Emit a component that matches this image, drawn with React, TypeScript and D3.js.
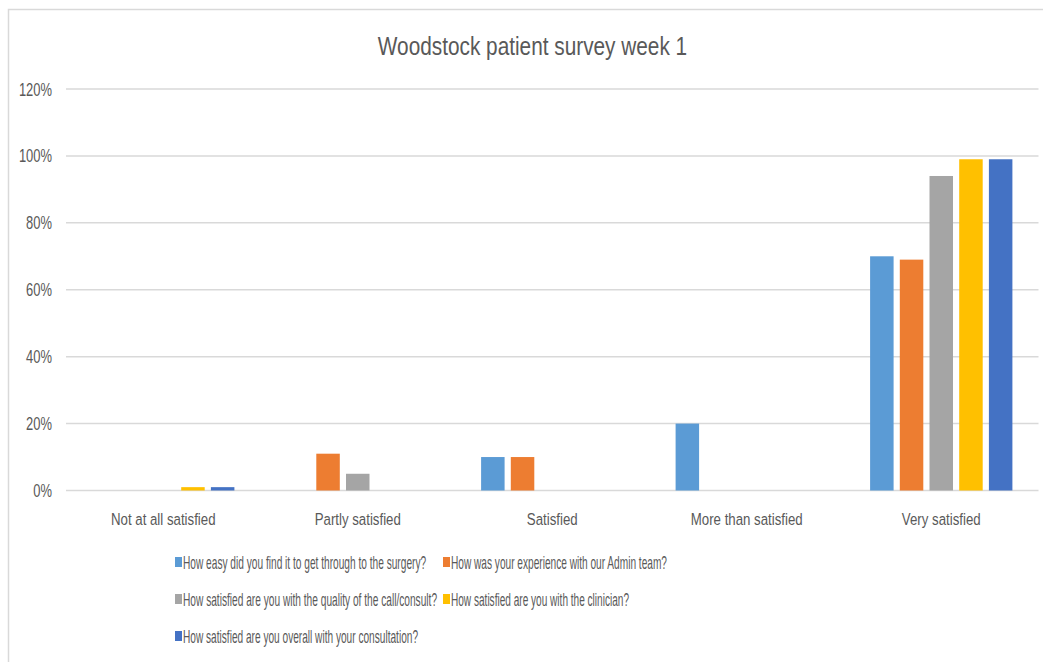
import React, { useLayoutEffect, useRef, useState } from "react";
import * as d3 from "d3";

const categories = [
  "Not at all satisfied",
  "Partly satisfied",
  "Satisfied",
  "More than satisfied",
  "Very satisfied",
];

const seriesNames = [
  "How easy did you find it to get through to the surgery?",
  "How was your experience with our Admin team?",
  "How satisfied are you with the quality of the call/consult?",
  "How satisfied are you with the clinician?",
  "How satisfied are you overall with your consultation?",
];

const seriesColors = ["#5B9BD5", "#ED7D31", "#A5A5A5", "#FFC000", "#4472C4"];

// Percent of responses per category, one array per question
const easyThrough = [0, 0, 10, 20, 70];
const adminTeam = [0, 11, 10, 0, 69];
const callQuality = [0, 5, 0, 0, 94];
const clinician = [1, 0, 0, 0, 99];
const overall = [1, 0, 0, 0, 99];

const seriesValues = [easyThrough, adminTeam, callQuality, clinician, overall];

const yTicks = [0, 20, 40, 60, 80, 100, 120];

const W = 1043;
const H = 662;
const margin = { left: 66, right: 4.5, top: 89, bottom: 172 };
const FONT = "'Liberation Sans', Arial, sans-serif";
const TEXT = "#595959";

// Condensed legend text widths
const legendWidths = [243, 216, 254, 178, 235];

export default function App() {
  const legendRefs = useRef<(SVGTextElement | null)[]>([]);
  const [legendScale, setLegendScale] = useState<number[]>(legendWidths.map(() => 0.8));

  useLayoutEffect(() => {
    const s = legendRefs.current.map((el, i) => {
      if (!el) return 0.8;
      const w = el.getComputedTextLength();
      return w > 0 ? legendWidths[i] / w : 0.8;
    });
    setLegendScale(s);
  }, []);

  const x0 = d3
    .scaleBand<string>()
    .domain(categories)
    .range([margin.left, W - margin.right])
    .padding(0);
  const groupW = 142.3;
  const x1 = d3
    .scaleBand<number>()
    .domain(d3.range(seriesNames.length))
    .range([0, groupW])
    .paddingInner(0.209)
    .paddingOuter(0);
  const y = d3
    .scaleLinear()
    .domain([0, 120])
    .range([H - margin.bottom + 0.5, margin.top]);

  const legendItems = [
    { i: 0, x: 175, y: 562 },
    { i: 1, x: 443, y: 562 },
    { i: 2, x: 175, y: 599 },
    { i: 3, x: 443, y: 599 },
    { i: 4, x: 175, y: 636 },
  ];

  return (
    <svg
      width={W}
      height={H}
      style={{ position: "absolute", left: 0, top: 0, display: "block", background: "#fff" }}
      fontFamily={FONT}
    >
      <rect width={W} height={H} fill="#fff" />
      <path d={`M8.5,${H} V9.5 H${W}`} fill="none" stroke="#d9d9d9" strokeWidth={1.5} />

      <text
        transform={`translate(${W / 2 + 11},55) scale(0.8,1)`}
        textAnchor="middle"
        fontSize={26}
        fill={TEXT}
      >
        Woodstock patient survey week 1
      </text>

      {/* gridlines and y tick labels */}
      {yTicks.map((t) => (
        <g key={t}>
          <line
            x1={margin.left}
            x2={W - margin.right}
            y1={y(t)}
            y2={y(t)}
            stroke="#d9d9d9"
            strokeWidth={1.5}
          />
          <text
            transform={`translate(52,${y(t) + 6.5}) scale(0.74,1)`}
            textAnchor="end"
            fontSize={17.5}
            fill={TEXT}
          >
            {t}%
          </text>
        </g>
      ))}

      {/* bars */}
      {categories.map((c, ci) => {
        const gx = (x0(c) as number) + (x0.bandwidth() - groupW) / 2;
        return (
          <g key={c}>
            {seriesValues.map((vals, si) =>
              vals[ci] > 0 ? (
                <rect
                  key={si}
                  x={gx + (x1(si) as number)}
                  y={y(vals[ci])}
                  width={x1.bandwidth()}
                  height={y(0) - y(vals[ci])}
                  fill={seriesColors[si]}
                />
              ) : null
            )}
          </g>
        );
      })}

      {/* category labels */}
      {categories.map((c) => (
        <text
          key={c}
          transform={`translate(${(x0(c) as number) + x0.bandwidth() / 2},${y(0) + 34}) scale(0.78,1)`}
          textAnchor="middle"
          fontSize={17}
          fill={TEXT}
        >
          {c}
        </text>
      ))}

      {/* legend */}
      {legendItems.map(({ i, x, y: ly }) => (
        <g key={i}>
          <rect x={x} y={ly - 5} width={7} height={10} fill={seriesColors[i]} />
          <g transform={`translate(${x + 8},${ly + 6.5}) scale(${legendScale[i]},1)`}>
            <text
              ref={(el) => {
                legendRefs.current[i] = el;
              }}
              x={0}
              y={0}
              fontSize={17.5}
              fill={TEXT}
            >
              {seriesNames[i]}
            </text>
          </g>
        </g>
      ))}
    </svg>
  );
}
